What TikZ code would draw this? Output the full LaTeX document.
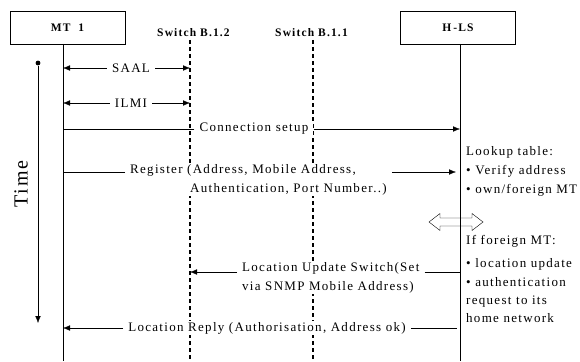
\documentclass[tikz,border=0pt]{standalone}
\usepackage{fontspec}
\setmainfont{Liberation Serif}[LetterSpace=10]
\usetikzlibrary{arrows.meta,positioning,calc}

\begin{document}
\begin{tikzpicture}[x=1pt, y=-1pt, >={Latex[length=7pt,width=5.5pt]}, font=\fontsize{13}{19}\selectfont]
        \tikzstyle{box} = [draw, rectangle, minimum height=33pt, minimum width=115pt, font=\fontsize{11.5}{13}\selectfont\bfseries]
        \tikzstyle{swlabel} = [font=\fontsize{11.5}{13}\selectfont\bfseries]
        \tikzstyle{msg} = [fill=white, inner xsep=5pt, inner ysep=1pt, align=left]
        \tikzstyle{switchline} = [line width=1.2pt, dash pattern=on 4pt off 3pt]
        \tikzstyle{note} = [align=left, anchor=north west, inner sep=0pt]
        \useasboundingbox (0,0) rectangle (580,361);

        \node [box] (mt) at (67.5,27.5) {MT~~1};
        \node [box] (hls) at (458,27.5) {H\,-LS};
        \node [swlabel] (sw2) at (193.5,33) {Switch B.1.2};
        \node [swlabel, right of=sw2, node distance=118pt] (sw1) {Switch B.1.1};

        % lifelines
        \coordinate (mtl) at (63,44);
        \coordinate (sw2l) at (190,40);
        \coordinate (sw1l) at (313,40);
        \coordinate (hlsl) at (460,44);
        \coordinate (bottom) at (0,361);
        \draw (mtl) -- (mtl |- bottom);
        \draw (hlsl) -- (hlsl |- bottom);
        \draw [switchline] (sw2l) -- (sw2l |- bottom);
        \draw [switchline] (sw1l) -- (sw1l |- bottom);

        % time axis
        \node [circle, fill, inner sep=1.7pt] (tstart) at (38,63) {};
        \coordinate (tend) at (38,323);
        \draw [->] (tstart) -- (tend);
        \node [rotate=90, font=\fontsize{20}{24}\selectfont] (time) at (21,184) {Time};

        % messages
        \node [msg] (saal) at (131,68) {SAAL};
        \draw [->] (saal) -- (saal -| sw2l);
        \draw [->] (saal) -- (saal -| mtl);

        \node [msg] (ilmi) at (131,103) {ILMI};
        \draw [->] (ilmi) -- (ilmi -| sw2l);
        \draw [->] (ilmi) -- (ilmi -| mtl);

        \node [msg] (setup) at (254,129) {Connection setup};
        \draw (setup) -- (setup -| mtl);
        \draw [->] (setup) -- (setup -| hlsl);

        \coordinate (regy) at (0,172);
        \node [msg, anchor=north west] (reg) at (125,163) {Register (Address, Mobile Address,\\\hspace*{60pt}Authentication, Port Number..)};
        \draw (reg.west |- regy) -- (mtl |- regy);
        \draw [->] (reg.east |- regy) -- ($(hlsl |- regy)+(-4,0)$);

        % hollow double arrow
        \draw (429,222) -- (440,213.5) -- (440,218) -- (472,218) -- (472,213.5) -- (483,222)
              -- (472,230.5) -- (472,226) -- (440,226) -- (440,230.5) -- cycle;

        \coordinate (updy) at (0,272);
        \node [msg, anchor=north west] (upd) at (237,261) {Location Update Switch(Set\\via SNMP Mobile Address)};
        \draw (upd.east |- updy) -- (hlsl |- updy);
        \draw [->] (upd.west |- updy) -- (sw2l |- updy);

        \node [msg] (reply) at (267,328) {Location Reply (Authorisation, Address ok)};
        \draw (reply) -- ($(reply -| hlsl)+(-3,0)$);
        \draw [->] (reply) -- (reply -| mtl);

        % notes at the H-LS
        \node [note] (lookup) at (466,146) {Lookup table:\\ • Verify address\\ • own/foreign MT};
        \node [note] (foreign) at (466,235) {If foreign MT:\\[4pt] • location update\\ • authentication\\[-1pt] request to its\\[-1pt] home network};
    \end{tikzpicture}
\end{document}
